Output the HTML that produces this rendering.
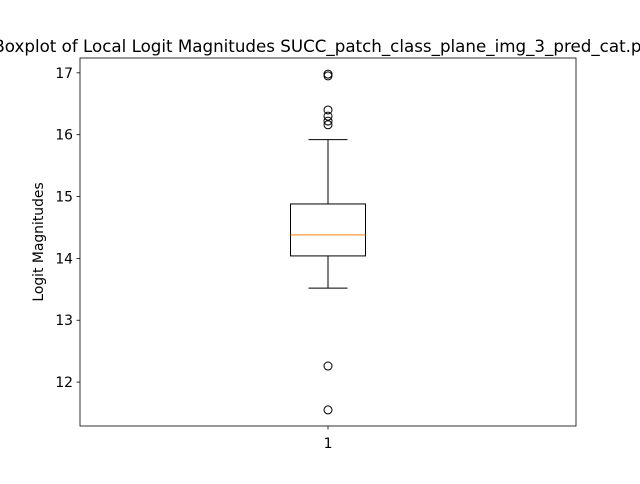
<!DOCTYPE html>
<html><head><meta charset="utf-8"><style>
body{margin:0;background:#fff;font-family:"DejaVu Sans","Liberation Sans",sans-serif}
svg text{font-family:"DejaVu Sans","Liberation Sans",sans-serif}
</style></head><body>
<svg width="640" height="480" viewBox="0 0 640 480" xmlns="http://www.w3.org/2000/svg">
<rect width="640" height="480" fill="#fff"/>
<g id="plot"></g>
<text x="328" y="52" text-anchor="middle" font-size="16.7" fill="#000">Boxplot of Local Logit Magnitudes SUCC_patch_class_plane_img_3_pred_cat.png</text>
<text transform="translate(43,242) rotate(-90)" text-anchor="middle" font-size="13.9" fill="#000">Logit Magnitudes</text>
</svg>
<script>
const categories=["1"];
const yTicks=[12,13,14,15,16,17];
const q1s=[14.04], q3s=[14.88], medians=[14.38], whiskLo=[13.52], whiskHi=[15.92];
const outliers=[[16.98,16.95,16.40,16.30,16.22,16.16,12.26,11.55]];
const NS="http://www.w3.org/2000/svg";
const L=80,R=576,T=58,B=426,yMin=11.29,yMax=17.24;
const y=v=>B-(v-yMin)/(yMax-yMin)*(B-T);
const x=i=>L+(i+0.5)*(R-L)/categories.length;
const g=document.getElementById('plot');
function mk(t,a){const e=document.createElementNS(NS,t);for(const k in a)e.setAttribute(k,a[k]);g.appendChild(e);return e;}
const frame=mk('rect',{x:L,y:T,width:R-L,height:B-T,fill:'none',stroke:'#000','stroke-width':0.8});


yTicks.forEach(t=>{
 const tk=mk('line',{x1:L-3.5,x2:L,y1:y(t),y2:y(t),stroke:'#000','stroke-width':0.8});
 
 
 const lb=mk('text',{x:L-7,y:y(t)+5,'text-anchor':'end','font-size':13.9});
 lb.textContent=t;
 
 
});
categories.forEach((c,i)=>{
 const cx=x(i),hw=37.5,cw=19.5;
 const tk=mk('line',{x1:cx,x2:cx,y1:B,y2:B+3.5,stroke:'#000','stroke-width':0.8});
 
 
 const lb=mk('text',{x:cx,y:B+22,'text-anchor':'middle','font-size':13.9});
 lb.textContent=c;
 
 
 const w1=mk('line',{x1:cx,x2:cx,y1:y(q1s[i]),y2:y(whiskLo[i]),stroke:'#000'});
 
 
 const w2=mk('line',{x1:cx,x2:cx,y1:y(q3s[i]),y2:y(whiskHi[i]),stroke:'#000'});
 
 
 const c1=mk('line',{x1:cx-cw,x2:cx+cw,y1:y(whiskLo[i]),y2:y(whiskLo[i]),stroke:'#000'});
 
 
 const c2=mk('line',{x1:cx-cw,x2:cx+cw,y1:y(whiskHi[i]),y2:y(whiskHi[i]),stroke:'#000'});
 
 
 const bx=mk('rect',{x:cx-hw,y:y(q3s[i]),width:2*hw,height:y(q1s[i])-y(q3s[i]),fill:'none',stroke:'#000'});
 
 
 const md=mk('line',{x1:cx-hw,x2:cx+hw,y1:y(medians[i]),y2:y(medians[i]),stroke:'#ff7f0e'});
 
 
 outliers[i].forEach(v=>{
  const o=mk('circle',{cx:cx,cy:y(v),r:4,fill:'none',stroke:'#000'});
  
  
 });
});
</script>
</body></html>
